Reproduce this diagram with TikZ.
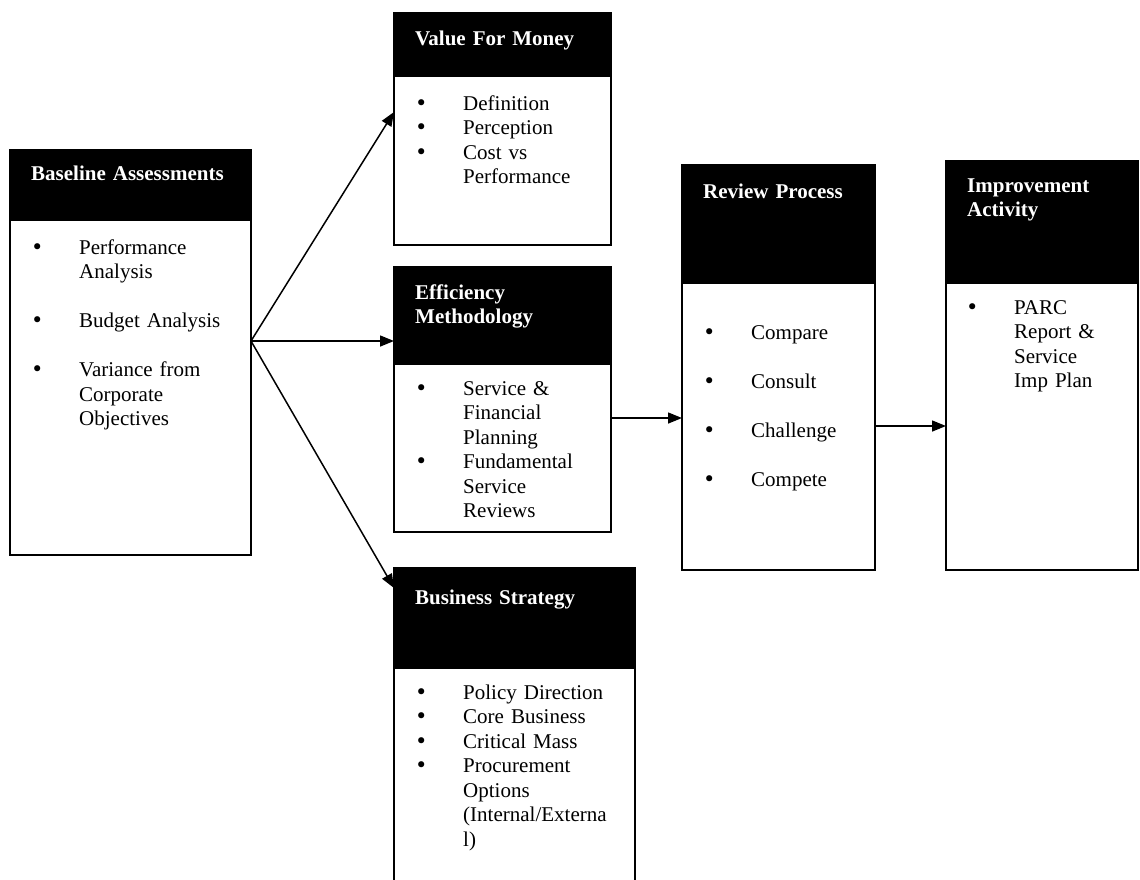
\documentclass[tikz,border=0pt]{standalone}
\usepackage{fontspec}
\setmainfont{Liberation Serif}
\newfontfamily\bulfont{DejaVu Sans}
\usetikzlibrary{arrows.meta}
\newcommand{\mybul}{\leavevmode\llap{\makebox[48pt][l]{\bulfont\fontsize{21}{24.5}\selectfont •}}}
\tikzset{
  box/.style={draw=black, line width=1.7pt, inner sep=0pt, outer sep=0pt, anchor=north west},
  head/.style={fill=black, draw=black, line width=1.7pt, inner sep=0pt, outer sep=0pt, anchor=north west},
  htxt/.style={text=white, font=\fontsize{21}{24.5}\selectfont\bfseries, anchor=base west, inner sep=0pt, text width=300pt, align=left},
  btxt/.style={text=black, font=\fontsize{21}{24.5}\selectfont, anchor=base west, inner sep=0pt, text width=200pt, align=left},
  arr/.style={line width=1.5pt, -{Triangle[length=14pt,width=11pt]}},
}
\begin{document}
\begin{tikzpicture}[x=1pt,y=-1pt]
\clip (0,0) rectangle (1140,879);
\fill[white] (0,0) rectangle (1140,879);
% Baseline Assessments
\node[head, minimum width=241pt, minimum height=70pt] (baseh) at (10,150) {};
\node[box, minimum width=241pt, minimum height=405pt] (base) at (10,150) {};
\node[htxt] (baset) at (31,180) {Baseline Assessments};
\node[btxt] (baseb) at (79,254) {\mybul Performance\\Analysis\\[24.5pt]\mybul Budget Analysis\\[24.5pt]\mybul Variance from\\Corporate\\Objectives};
% Value For Money
\node[head, minimum width=217pt, minimum height=63pt] (vfmh) at (394,13) {};
\node[box, minimum width=217pt, minimum height=232pt] (vfm) at (394,13) {};
\node[htxt] (vfmt) at (415,45) {Value For Money};
\node[btxt] (vfmb) at (463,110) {\mybul Definition\\\mybul Perception\\\mybul Cost vs\\Performance};
% Efficiency Methodology
\node[head, minimum width=217pt, minimum height=97pt] (effh) at (394,267) {};
\node[box, minimum width=217pt, minimum height=265pt] (eff) at (394,267) {};
\node[htxt] (efft) at (415,299) {Efficiency\\Methodology};
\node[btxt] (effb) at (463,395) {\mybul Service \&\\Financial\\Planning\\\mybul Fundamental\\Service\\Reviews};
% Business Strategy
\node[head, minimum width=241pt, minimum height=100pt] (bush) at (394,568) {};
\node[box, minimum width=241pt, minimum height=330pt] (bus) at (394,568) {};
\node[htxt] (bust) at (415,604) {Business Strategy};
\node[btxt] (busb) at (463,699) {\mybul Policy Direction\\\mybul Core Business\\\mybul Critical Mass\\\mybul Procurement\\Options\\(Internal/Externa\\l)};
% Review Process
\node[head, minimum width=193pt, minimum height=118pt] (revh) at (682,165) {};
\node[box, minimum width=193pt, minimum height=405pt] (rev) at (682,165) {};
\node[htxt] (revt) at (703,198) {Review Process};
\node[btxt] (revb) at (751,339) {\mybul Compare\\[24.5pt]\mybul Consult\\[24.5pt]\mybul Challenge\\[24.5pt]\mybul Compete};
% Improvement Activity
\node[head, minimum width=192pt, minimum height=122pt] (imph) at (946,161) {};
\node[box, minimum width=192pt, minimum height=409pt] (imp) at (946,161) {};
\node[htxt] (impt) at (967,192) {Improvement\\Activity};
\node[btxt] (impb) at (1014,314) {\mybul PARC\\Report \&\\Service\\Imp Plan};
% connectors
\coordinate (src) at ([yshift=214pt]base.south east);
\draw[arr] (src) -- ([yshift=-99pt]vfm.north west);
\draw[arr] (src) -- ([yshift=-74pt]eff.north west);
\draw[arr] (src) -- ([yshift=-20pt]bus.north west);
\draw[arr] ([yshift=-151pt]eff.north east) -- ([yshift=-253pt]rev.north west);
\draw[arr] ([yshift=-261pt]rev.north east) -- ([yshift=-265pt]imp.north west);
\end{tikzpicture}
\end{document}
